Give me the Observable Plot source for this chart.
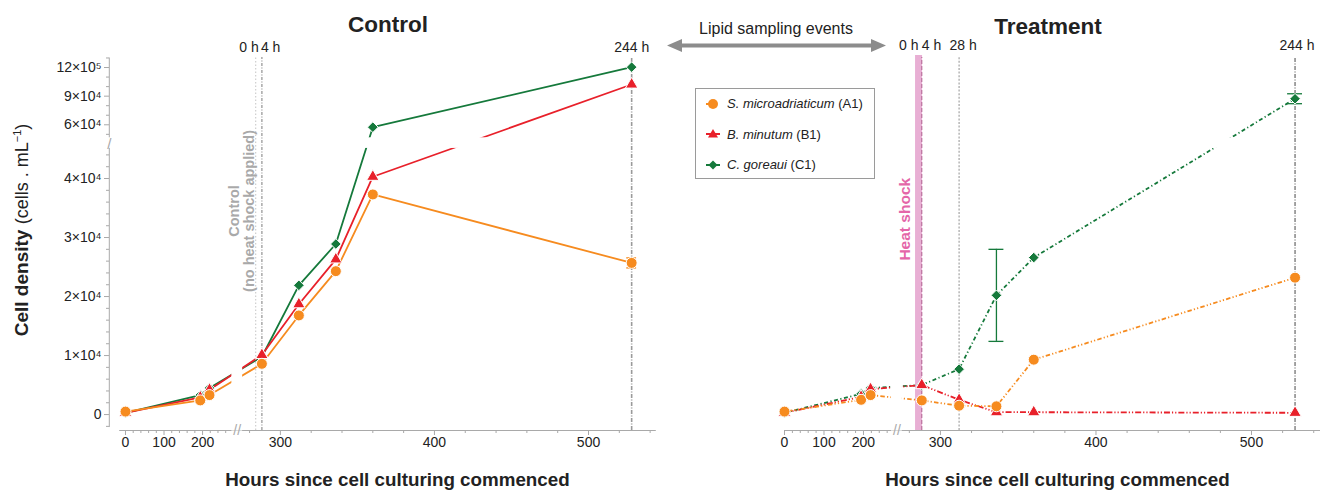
<!DOCTYPE html>
<html>
<head>
<meta charset="utf-8">
<script src="https://cdn.jsdelivr.net/npm/d3@7"></script>
<script src="https://cdn.jsdelivr.net/npm/@observablehq/plot@0.6"></script>
<style>
  html,body{margin:0;padding:0;background:#fff;}
  #wrap{position:relative;width:1320px;height:492px;overflow:hidden;font-family:"Liberation Sans",Arial,Helvetica,sans-serif;color:#222;background:#fff;}
  .svgbox{position:absolute;top:0;}
  .lbl{position:absolute;white-space:nowrap;line-height:1;z-index:2;}
</style>
</head>
<body>
<div id="wrap">
  <div id="left" class="svgbox" style="left:0"></div>
  <div id="right" class="svgbox" style="left:660px"></div>
</div>
<script>
// ---------------- data ----------------
const hours = [0, 194, 218, 288, 312, 336, 360, 528];
const seriesNames = ["S. microadriaticum", "B. minutum", "C. goreaui"];
const seriesCodes = ["(A1)", "(B1)", "(C1)"];
const colors = ["#f68b1f", "#e8202a", "#15793b"];

const controlA1 = [500, 2400, 3300, 8600, 16800, 24300, 37300, 25700];
const controlB1 = [300, 2900, 4200, 10100, 18700, 26300, 40300, 102200];
const controlC1 = [300, 3300, 4500, 9800, 21900, 28900, 57500, 120400];

const treatA1 = [500, 2500, 3300, 2400, 1500, 1400, 9300, 23200];
const treatB1 = [300, 3000, 4300, 5000, 2500, 400, 400, 300];
const treatC1 = [300, 3500, 4500, 5000, 7700, 20200, 26600, 87300];

const controlErr = [{s: 0, h: 528, v: 25700, e: 850}];
const treatErr = [{s: 2, h: 336, v: 20200, e: 7800}, {s: 2, h: 528, v: 87300, e: 5200}];

const eventHours = [284, 288, 312, 528];
const eventLabels = ["0 h", "4 h", "28 h", "244 h"];
const heatShock = [{start: 284, end: 288.5}];

const yTicks = [0, 10000, 20000, 30000, 40000, 60000, 90000, 120000];
const yTickLabels = ["0", "1×10⁴", "2×10⁴", "3×10⁴", "4×10⁴", "6×10⁴", "9×10⁴", "12×10⁵"];
const yMinor = [-2000, 2000, 4000, 6000, 8000, 12000, 14000, 16000, 18000, 22000, 24000, 26000, 28000,
  32000, 34000, 36000, 38000, 42000, 44000, 50000, 70000, 80000, 100000, 110000, 130000];
const xTicks = [0, 100, 200, 300, 400, 500];
const xTickLabels = ["0", "100", "200", "300", "400", "500"];
const xMinor = [20, 40, 60, 80, 120, 140, 160, 180, 220, 240, 260, 280, 320, 340, 360, 380,
  420, 440, 460, 480, 520, 540];

// ---------------- helpers ----------------
const font = "Liberation Sans, Arial, Helvetica, sans-serif";
const AX = "#a9a9a9";
const Y = {type: "linear", domain: [-2700, 47000, 130500], range: [430, 136.7, 57]};
const symbols = ["circle", "triangle", "diamond2"];
const radii = [5.5, 4.6, 4.8];

function rows(values) { return hours.map((h, i) => ({h, v: values[i]})); }

function lineMarks(list, dashes) {
  return [2, 1, 0].map(k => Plot.line(rows(list[k]), {
    x: "h", y: "v", stroke: colors[k], strokeWidth: 1.8,
    strokeDasharray: dashes[k], strokeLinecap: "butt"
  }));
}
function dotMarks(list) {
  return [2, 1, 0].map(k => Plot.dot(rows(list[k]), {
    x: "h", y: "v", symbol: symbols[k], r: radii[k], fill: colors[k],
    stroke: "white", strokeWidth: 1
  }));
}
function errMarks(errs, capHalf) {
  return [
    Plot.ruleX(errs, {x: "h", y1: d => d.v - d.e, y2: d => d.v + d.e, stroke: d => colors[d.s], strokeWidth: 1.3}),
    Plot.ruleY(errs, {y: d => d.v - d.e, x1: d => d.h - capHalf, x2: d => d.h + capHalf, stroke: d => colors[d.s], strokeWidth: 1.3}),
    Plot.ruleY(errs, {y: d => d.v + d.e, x1: d => d.h - capHalf, x2: d => d.h + capHalf, stroke: d => colors[d.s], strokeWidth: 1.3})
  ];
}
function breakBands(xa, xb) {
  return [
    Plot.rect([0], {x1: 268.5, x2: 275.5, y1: -2800, y2: 131000, fill: "white"}),
    Plot.rect([0], {x1: xa, x2: xb, y1: 45100, y2: 46900, fill: "white"})
  ];
}
function xAxisMarks() {
  return [
    Plot.axisX(xTicks, {tickSize: 5, tickPadding: 2, stroke: AX, fill: "#222", fontSize: 14,
      tickFormat: d => xTickLabels[xTicks.indexOf(d)], label: null}),
    Plot.axisX(xMinor, {tickSize: 3, stroke: AX, fill: "none", label: null}),
    Plot.text(["//"], {x: 272, y: -2700, fontSize: 14, fill: AX, text: d => d})
  ];
}
function evLabel(i, y, anchor, dx) {
  return Plot.text([i], {x: j => eventHours[j], y: y, text: j => eventLabels[j],
    textAnchor: anchor, dx: dx, fontSize: 14, fill: "#222"});
}
function evRule(i, stroke, dash, w) {
  return Plot.ruleX([eventHours[i]], {y1: -2700, y2: 130500, stroke, strokeDasharray: dash, strokeWidth: w});
}
const styleObj = {fontFamily: font, fontSize: "14px", color: "#222", background: "transparent", overflow: "visible"};

const controlList = [controlA1, controlB1, controlC1];
const treatList = [treatA1, treatB1, treatC1];

// ---------------- Control panel ----------------
const leftPlot = Plot.plot({
  width: 660, height: 492,
  marginTop: 57, marginRight: 5, marginBottom: 62, marginLeft: 109,
  x: {type: "linear", domain: [-42, 266, 544], range: [108.8, 227.5, 655.8]},
  y: Y,
  style: styleObj,
  marks: [
    ...lineMarks(controlList, [null, null, null]),
    Plot.ruleX([-42], {y1: -2200, y2: 130000, stroke: AX}),
    Plot.ruleY([-2700], {x1: -15, x2: 544, stroke: AX}),
    ...breakBands(-60, 560),
    Plot.text(["/"], {x: -42, y: 45900, fontSize: 15, fill: AX, text: d => d}),
    Plot.axisY(yTicks, {tickSize: 5, tickPadding: 3, stroke: AX, fill: "#222", fontSize: 14,
      tickFormat: d => yTickLabels[yTicks.indexOf(d)], label: null}),
    Plot.axisY(yMinor, {tickSize: 3, stroke: AX, fill: "none", label: null}),
    ...xAxisMarks(),
    evRule(0, "#c4c4c4", "1.5,2", 1),
    evRule(1, "#9a9a9a", "3,1.5,1,1.5", 1.3),
    evRule(3, "#9a9a9a", "4,1.5,1,1.5", 1.6),
    evLabel(0, 141000, "end", 3),
    evLabel(1, 141000, "start", -1),
    evLabel(3, 141000, "middle", 0),
    Plot.text(["Control\n(no heat shock applied)"], {x: 274.7, y: 34500, rotate: -90, lineHeight: 1.1,
      fontSize: 14.5, fontWeight: "bold", fill: "#a9a9a9", text: d => d}),
    ...errMarks(controlErr, 3.2),
    ...dotMarks(controlList)
  ]
});
document.getElementById("left").appendChild(leftPlot);

// ---------------- Treatment panel ----------------
const rightPlot = Plot.plot({
  width: 660, height: 492,
  marginTop: 57, marginRight: 0, marginBottom: 62, marginLeft: 124,
  x: {type: "linear", domain: [0, 267.7, 545], range: [124, 229.7, 661]},
  y: {...Y, axis: null},
  style: styleObj,
  marks: [
    ...lineMarks(treatList, ["1.2,2.2,4.5,2.2,1.2,2.2", "6,2,1.2,2,1.2,2", "4,2.5,1.2,2.5"]),
    Plot.ruleY([-2700], {x1: 0, x2: 545, stroke: AX}),
    ...breakBands(-10, 560),
    Plot.rect(heatShock, {x1: "start", x2: "end", y1: -2700, y2: 132600, fill: "#e6a6cf", fillOpacity: 0.9}),
    ...xAxisMarks(),
    evRule(1, "#b66c98", "4,2", 1.1),
    evRule(2, "#aaaaaa", "2,1.6", 1.3),
    evRule(3, "#9a9a9a", "4,1.5,1,1.5", 1.8),
    evLabel(0, 143000, "end", 3),
    evLabel(1, 143000, "start", 0),
    evLabel(2, 143000, "middle", 4),
    evLabel(3, 143000, "middle", 2),
    Plot.text(["Heat shock"], {x: 277.5, y: 33100, rotate: -90, fontSize: 15.5, fontWeight: "bold",
      fill: "#e466a8", text: d => d}),
    ...errMarks(treatErr, 4.8),
    ...dotMarks(treatList)
  ]
});
document.getElementById("right").appendChild(rightPlot);

// ---------------- HTML annotations ----------------
const wrap = document.getElementById("wrap");
function addLabel(html, x, y, size, weight, anchor) {
  const d = document.createElement("div");
  d.className = "lbl";
  d.innerHTML = html;
  d.style.fontSize = size + "px";
  d.style.fontWeight = weight || "normal";
  d.style.left = x + "px";
  d.style.top = (y - 0.49 * size) + "px";
  const tx = anchor === "start" ? "0" : anchor === "end" ? "-100%" : "-50%";
  d.style.transform = "translateX(" + tx + ")";
  wrap.appendChild(d);
  return d;
}
addLabel("Control", 388, 25, 22.5, "bold");
addLabel("Treatment", 1048, 27, 22.5, "bold");
addLabel("Lipid sampling events", 776, 29, 16, "normal");
addLabel("Hours since cell culturing commenced", 397.5, 480.5, 18.8, "bold");
addLabel("Hours since cell culturing commenced", 1057.5, 480.5, 18.8, "bold");

// rotated y label
const yl = document.createElement("div");
yl.className = "lbl";
yl.style.left = "21px";
yl.style.top = "230px";
yl.style.fontSize = "19px";
yl.style.transform = "translate(-50%,-50%) rotate(-90deg)";
yl.innerHTML = '<b>Cell density</b> <span style="font-size:18px">(cells . mL<sup style="font-size:11px;vertical-align:7px">−1</sup>)</span>';
wrap.appendChild(yl);

// double arrow
const ns = "http://www.w3.org/2000/svg";
const arrow = document.createElementNS(ns, "svg");
arrow.setAttribute("width", "230");
arrow.setAttribute("height", "20");
arrow.style.cssText = "position:absolute;left:662px;top:36px;z-index:2;overflow:visible";
arrow.innerHTML =
  '<line x1="17" y1="9.5" x2="212" y2="9.5" stroke="#8c8c8c" stroke-width="4"/>' +
  '<polygon points="5,9.5 20,3 20,16" fill="#8c8c8c"/>' +
  '<polygon points="224,9.5 209,3 209,16" fill="#8c8c8c"/>';
wrap.appendChild(arrow);

// legend
const leg = document.createElement("div");
leg.style.cssText = "position:absolute;left:695px;top:88px;width:178px;height:89px;border:1px solid #9a9a9a;background:#fff;z-index:2";
wrap.appendChild(leg);
const legY = [14.5, 45, 75.5];
const legendSym = [
  c => `<circle cx="10" cy="7" r="5" fill="${c}"/>`,
  c => `<path d="M10,2 L15,10.5 L5,10.5 Z" fill="${c}"/>`,
  c => `<path d="M10,2.5 L14.5,7 L10,11.5 L5.5,7 Z" fill="${c}"/>`
];
seriesNames.forEach((name, k) => {
  const s = document.createElementNS(ns, "svg");
  s.setAttribute("width", "20");
  s.setAttribute("height", "14");
  s.style.cssText = `position:absolute;left:7px;top:${legY[k] - 7}px;overflow:visible`;
  const stub = k === 0 ? '<line x1="3" y1="7" x2="10" y2="7" stroke="' + colors[k] + '" stroke-width="2"/>'
                       : '<line x1="3" y1="7" x2="17" y2="7" stroke="' + colors[k] + '" stroke-width="2"/>';
  s.innerHTML = stub + legendSym[k](colors[k]);
  leg.appendChild(s);
  const t = document.createElement("div");
  t.style.cssText = `position:absolute;left:31px;top:${legY[k] - 6.5}px;font-size:13px;line-height:1;white-space:nowrap;color:#222`;
  t.innerHTML = `<i>${name}</i> ${seriesCodes[k]}`;
  leg.appendChild(t);
});
</script>
</body>
</html>
